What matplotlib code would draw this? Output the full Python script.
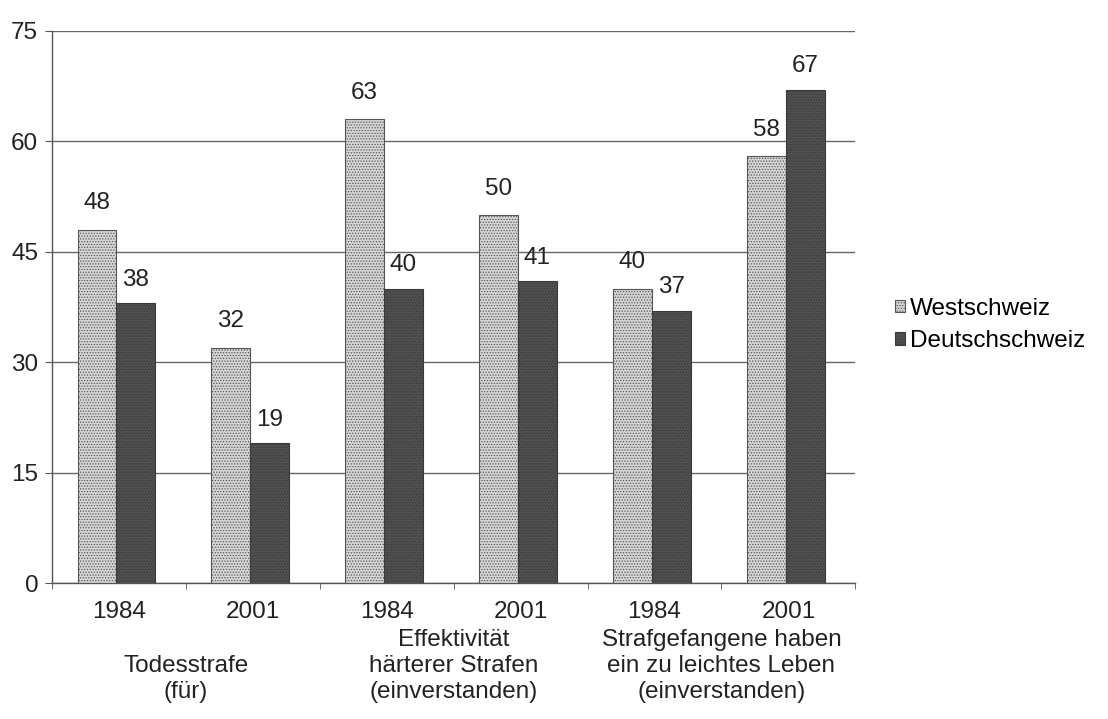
import numpy as np
import matplotlib
matplotlib.use("Agg")
import matplotlib.pyplot as plt
from matplotlib.transforms import blended_transform_factory

plt.rcParams['font.family'] = ['Liberation Sans', 'DejaVu Sans']
plt.rcParams['hatch.linewidth'] = 0.6

# data
years = ["1984", "2001", "1984", "2001", "1984", "2001"]
west = [48, 32, 63, 50, 40, 58]
deutsch = [38, 19, 40, 41, 37, 67]
topics = ["Todesstrafe\n(für)",
          "Effektivität\nhärterer Strafen\n(einverstanden)",
          "Strafgefangene haben\nein zu leichtes Leben\n(einverstanden)"]
series = ["Westschweiz", "Deutschschweiz"]

FS = 17.5

fig = plt.figure(figsize=(11.08, 7.19), dpi=100)
ax = fig.add_axes([0.047, 0.189, 0.725, 0.768])

x = np.arange(len(years))
w = 0.29
b1 = ax.bar(x - 0.165, west, w, color='#d6d6d6', edgecolor='#555555',
            hatch='......', linewidth=0.8, zorder=3, label=series[0])
b2 = ax.bar(x - 0.165 + w, deutsch, w, color='#505050', edgecolor='#3a3a3a',
            hatch='......', linewidth=0.8, zorder=3, label=series[1])

for rect, v in zip(b1, west):
    ax.text(rect.get_x() + rect.get_width() / 2, v + 2.1, str(v),
            ha='center', va='bottom', fontsize=FS, color='#222222')
for rect, v in zip(b2, deutsch):
    ax.text(rect.get_x() + rect.get_width() / 2, v + 1.7, str(v),
            ha='center', va='bottom', fontsize=FS, color='#222222')

ax.set_ylim(0, 75)
ax.set_xlim(-0.5, 5.45)
ax.set_yticks([0, 15, 30, 45, 60, 75])
ax.yaxis.grid(True, color='#666666', linewidth=1.0, zorder=0)
ax.set_axisbelow(True)
ax.tick_params(axis='y', labelsize=FS, length=5, pad=5, color='#555555',
               labelcolor='#222222')

ax.set_xticks(x)
ax.set_xticklabels(years)
ax.set_xticks(np.arange(-0.5, 5.6, 1), minor=True)
ax.tick_params(axis='x', which='major', length=0, pad=13, labelsize=FS,
               labelcolor='#222222')
ax.tick_params(axis='x', which='minor', length=4, color='#555555')

for s in ['top', 'right']:
    ax.spines[s].set_visible(False)
for s in ['left', 'bottom']:
    ax.spines[s].set_color('#555555')
    ax.spines[s].set_linewidth(1.0)

trans = blended_transform_factory(ax.transData, ax.transAxes)
for i, t in enumerate(topics):
    ax.text(2 * i + 0.5, -0.217, t, transform=trans, ha='center', va='bottom',
            fontsize=FS, linespacing=1.22, color='#222222')

fig.legend(handles=[b1, b2], loc='center left', bbox_to_anchor=(0.788, 0.548),
           frameon=False, fontsize=FS, handlelength=0.42, handleheight=0.42,
           handletextpad=0.2, labelspacing=0.45)

fig.savefig("out.png", dpi=100)
